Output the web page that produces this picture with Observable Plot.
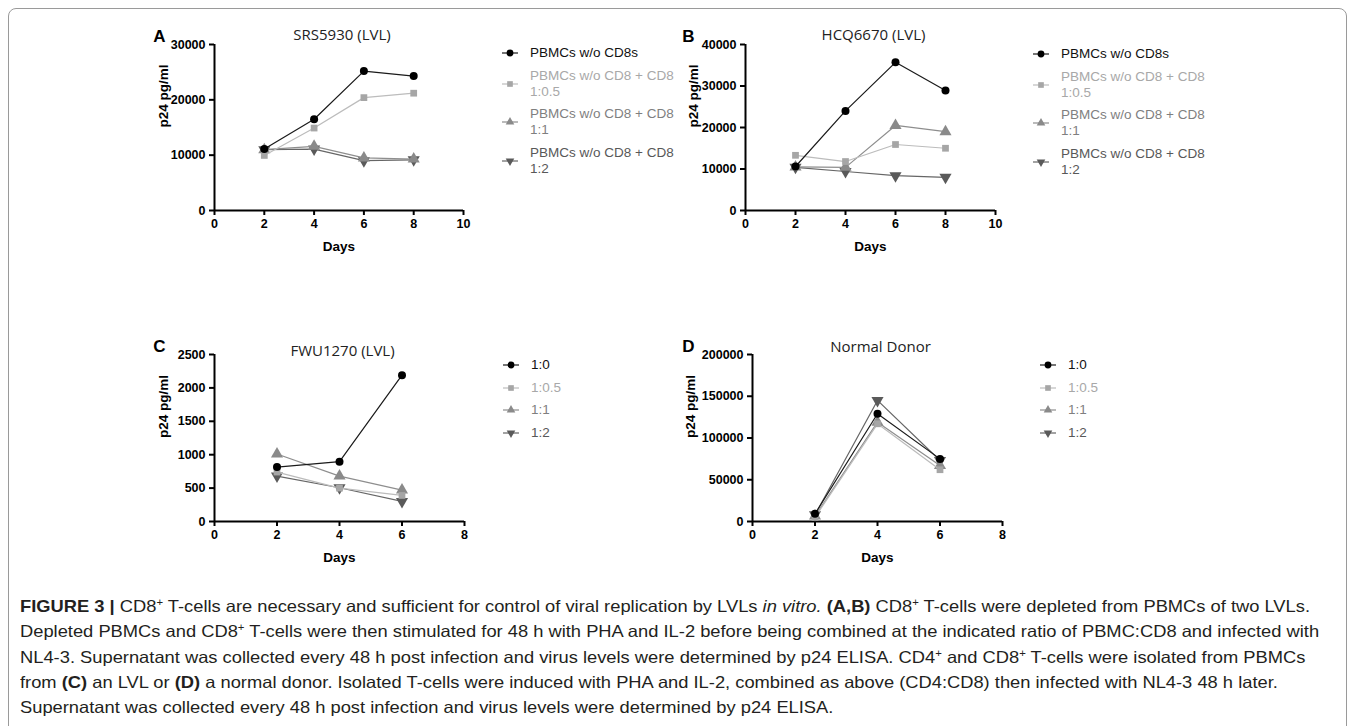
<!DOCTYPE html>
<html><head><meta charset="utf-8">
<script src="https://cdn.jsdelivr.net/npm/d3@7"></script>
<script src="https://cdn.jsdelivr.net/npm/@observablehq/plot@0.6"></script>
<style>
body{margin:0;background:#fff;}
#fig{position:relative;width:1355px;height:726px;overflow:hidden;background:#fff;}
.frame{position:absolute;left:8px;top:8px;width:1337px;height:780px;border:1px solid #9a9a9a;border-radius:8px;}
.panel{position:absolute;}
.legend{position:absolute;font-family:"Liberation Sans",Arial,sans-serif;font-size:13.5px;line-height:16px;}
.item{display:flex;align-items:center;margin-bottom:6.5px;white-space:pre-line;}
.item svg{flex:none;margin-right:10px;}
.caption{position:absolute;left:20px;top:594px;font-family:"Liberation Sans Narrow","Arial Narrow","Liberation Sans",sans-serif;font-size:16.5px;line-height:25.3px;color:#231f20;white-space:nowrap;transform-origin:0 0;}
.caption sup{font-size:0.62em;line-height:0;vertical-align:0.55em;}
</style>
</head><body>
<div id="fig"><div class="frame"></div></div>
<script>
// ---------- data ----------
const daysAB = [2, 4, 6, 8];
const daysCD = [2, 4, 6];
const xTicksAB = [0, 2, 4, 6, 8, 10];
const xTicksCD = [0, 2, 4, 6, 8];
const yTicksA = [0, 10000, 20000, 30000];
const yTicksB = [0, 10000, 20000, 30000, 40000];
const yTicksC = [0, 500, 1000, 1500, 2000, 2500];
const yTicksD = [0, 50000, 100000, 150000, 200000];
const labelsAB = ["PBMCs w/o CD8s", "PBMCs w/o CD8 + CD8\n1:0.5", "PBMCs w/o CD8 + CD8\n1:1", "PBMCs w/o CD8 + CD8\n1:2"];
const labelsCD = ["1:0", "1:0.5", "1:1", "1:2"];
const titles = ["SRS5930 (LVL)", "HCQ6670 (LVL)", "FWU1270 (LVL)", "Normal Donor"];
const letters = ["A", "B", "C", "D"];

// Panel A: SRS5930
const a_noCD8 = [11100, 16500, 25200, 24300];
const a_r05   = [9950, 14900, 20400, 21200];
const a_r1    = [11000, 11600, 9500, 9300];
const a_r2    = [11000, 11100, 9000, 9150];
// Panel B: HCQ6670
const b_noCD8 = [10600, 24000, 35700, 28900];
const b_r05   = [13300, 11800, 15900, 15000];
const b_r1    = [10500, 10400, 20500, 19000];
const b_r2    = [10400, 9400, 8400, 8000];
// Panel C: FWU1270
const c_r0  = [815, 895, 2190];
const c_r05 = [740, 500, 390];
const c_r1  = [1010, 680, 470];
const c_r2  = [680, 505, 300];
// Panel D: Normal donor
const d_r0  = [9200, 129000, 75000];
const d_r05 = [5000, 117000, 62000];
const d_r1  = [6500, 119000, 67000];
const d_r2  = [8000, 145000, 73000];

// ---------- styles ----------
const triDown = {draw(ctx, size){const y = -Math.sqrt(size/(Math.sqrt(3)*3)); ctx.moveTo(0,-y*2); ctx.lineTo(-Math.sqrt(3)*y, y); ctx.lineTo(Math.sqrt(3)*y, y); ctx.closePath();}};
const symbols = ["circle", "square", "triangle", triDown];
const d3symbols = [d3.symbolCircle, d3.symbolSquare, d3.symbolTriangle, triDown];
const radii = [4, 3.8, 4.5, 4.5];
const lineColors = ["#1a1a1a", "#bcbcbc", "#8e8e8e", "#666666"];
const fillColors = ["#000000", "#a6a6a6", "#8a8a8a", "#5a5a5a"];
const textColors = ["#111111", "#a8a8a8", "#7f7f7f", "#585858"];

const fig = document.getElementById("fig");

function panel(cfg){
  const data = cfg.series.flatMap((vals, k) => vals.map((v, j) => ({day: cfg.days[j], value: v, k})));
  const marks = [
    Plot.ruleY([0], {stroke: "#000", strokeWidth: 2}),
    Plot.ruleX([0], {stroke: "#000", strokeWidth: 2}),
    Plot.axisX({ticks: cfg.xTicks, tickSize: 5, tickPadding: 4, strokeWidth: 2, stroke: "#000", fontWeight: "bold", fontSize: 12.5, fill: "#000", label: null}),
    Plot.axisY({ticks: cfg.yTicks, tickSize: 5, tickPadding: 4, strokeWidth: 2, stroke: "#000", fontWeight: "bold", fontSize: 12.5, fill: "#000", tickFormat: d3.format("d"), label: null})
  ];
  for (const k of [3, 2, 1, 0]) {
    const sub = data.filter(d => d.k === k);
    marks.push(Plot.line(sub, {x: "day", y: "value", stroke: lineColors[k], strokeWidth: 1.2}));
    marks.push(Plot.dot(sub, {x: "day", y: "value", symbol: symbols[k], r: radii[k], fill: fillColors[k], stroke: "none"}));
  }
  marks.push(Plot.text([cfg.title], {frameAnchor: "top", dx: 3, dy: cfg.titleDy, fontFamily: "Open Sans, sans-serif", fontSize: 15, fontWeight: "normal", fill: "#222", lineAnchor: "middle"}));
  marks.push(Plot.text([cfg.letter], {frameAnchor: "top-left", dx: cfg.letterDx, dy: -8, fontSize: 17, fontWeight: "bold", fill: "#000", lineAnchor: "middle", textAnchor: "middle"}));
  marks.push(Plot.text(["p24 pg/ml"], {frameAnchor: "left", dx: cfg.ylabDx, rotate: -90, fontSize: 13.5, fontWeight: "bold", fill: "#000"}));
  marks.push(Plot.text(["Days"], {frameAnchor: "bottom", dy: 36, fontSize: 13.5, fontWeight: "bold", fill: "#000", lineAnchor: "middle"}));
  const svg = Plot.plot({
    width: cfg.width, height: cfg.height,
    marginLeft: 114, marginRight: cfg.width - 114 - cfg.frameW, marginTop: cfg.marginTop, marginBottom: cfg.height - cfg.marginTop - cfg.frameH,
    x: {domain: [0, cfg.xMax]}, y: {domain: [0, cfg.yMax]},
    style: {fontFamily: "Liberation Sans, Arial, sans-serif", background: "transparent", overflow: "visible"},
    marks
  });
  svg.classList.add("panel");
  svg.style.left = cfg.left + "px"; svg.style.top = cfg.top + "px";
  fig.appendChild(svg);

  const lg = document.createElement("div");
  lg.className = "legend";
  lg.style.left = cfg.legendLeft + "px"; lg.style.top = cfg.legendTop + "px";
  cfg.labels.forEach((lab, k) => {
    const it = document.createElement("div"); it.className = "item";
    const s = d3.create("svg").attr("width", 20).attr("height", 12);
    s.append("line").attr("x1", 2).attr("x2", 18).attr("y1", 6).attr("y2", 6).attr("stroke", lineColors[k]).attr("stroke-width", 1.2);
    s.append("path").attr("transform", "translate(10,6)").attr("d", d3.symbol(d3symbols[k], k === 0 ? 36 : 32)()).attr("fill", fillColors[k]);
    it.appendChild(s.node());
    const t = document.createElement("span"); t.textContent = lab; t.style.color = textColors[k];
    it.appendChild(t); lg.appendChild(it);
  });
  fig.appendChild(lg);
}

panel({letter: letters[0], title: titles[0], days: daysAB, series: [a_noCD8, a_r05, a_r1, a_r2], labels: labelsAB,
  xMax: 10, xTicks: xTicksAB, yMax: 30000, yTicks: yTicksA, left: 100, top: 10, width: 378, height: 250, frameW: 249, frameH: 166, marginTop: 34, titleDy: -9,
  letterDx: -55, ylabDx: -51, legendLeft: 500, legendTop: 45});
panel({letter: letters[1], title: titles[1], days: daysAB, series: [b_noCD8, b_r05, b_r1, b_r2], labels: labelsAB,
  xMax: 10, xTicks: xTicksAB, yMax: 40000, yTicks: yTicksB, left: 631, top: 10, width: 378, height: 250, frameW: 250, frameH: 166, marginTop: 34, titleDy: -9,
  letterDx: -57, ylabDx: -52, legendLeft: 1031, legendTop: 46});
panel({letter: letters[2], title: titles[2], days: daysCD, series: [c_r0, c_r05, c_r1, c_r2], labels: labelsCD,
  xMax: 8, xTicks: xTicksCD, yMax: 2500, yTicks: yTicksC, left: 100, top: 310, width: 378, height: 261, frameW: 250, frameH: 167, marginTop: 44, titleDy: -3,
  letterDx: -55, ylabDx: -51, legendLeft: 501, legendTop: 357});
panel({letter: letters[3], title: titles[3], days: daysCD, series: [d_r0, d_r05, d_r1, d_r2], labels: labelsCD,
  xMax: 8, xTicks: xTicksCD, yMax: 200000, yTicks: yTicksD, left: 638, top: 310, width: 378, height: 261, frameW: 250, frameH: 167, marginTop: 44, titleDy: -7,
  letterDx: -64, ylabDx: -62, legendLeft: 1038, legendTop: 357});

// ---------- caption ----------
const captionLines = [
  '<b>FIGURE 3 |</b> CD8<sup>+</sup> T-cells are necessary and sufficient for control of viral replication by LVLs <i>in vitro.</i> <b>(A,B)</b> CD8<sup>+</sup> T-cells were depleted from PBMCs of two LVLs.',
  'Depleted PBMCs and CD8<sup>+</sup> T-cells were then stimulated for 48 h with PHA and IL-2 before being combined at the indicated ratio of PBMC:CD8 and infected with',
  'NL4-3. Supernatant was collected every 48 h post infection and virus levels were determined by p24 ELISA. CD4<sup>+</sup> and CD8<sup>+</sup> T-cells were isolated from PBMCs',
  'from <b>(C)</b> an LVL or <b>(D)</b> a normal donor. Isolated T-cells were induced with PHA and IL-2, combined as above (CD4:CD8) then infected with NL4-3 48 h later.',
  'Supernatant was collected every 48 h post infection and virus levels were determined by p24 ELISA.'
];
const cap = document.createElement("div"); cap.className = "caption";
cap.innerHTML = captionLines.map(l => '<div><span>' + l + '</span></div>').join("");
fig.appendChild(cap);
const w = cap.querySelector("span").getBoundingClientRect().width;
cap.style.transform = "scaleX(" + (1290 / w) + ")";
</script>
</body></html>
